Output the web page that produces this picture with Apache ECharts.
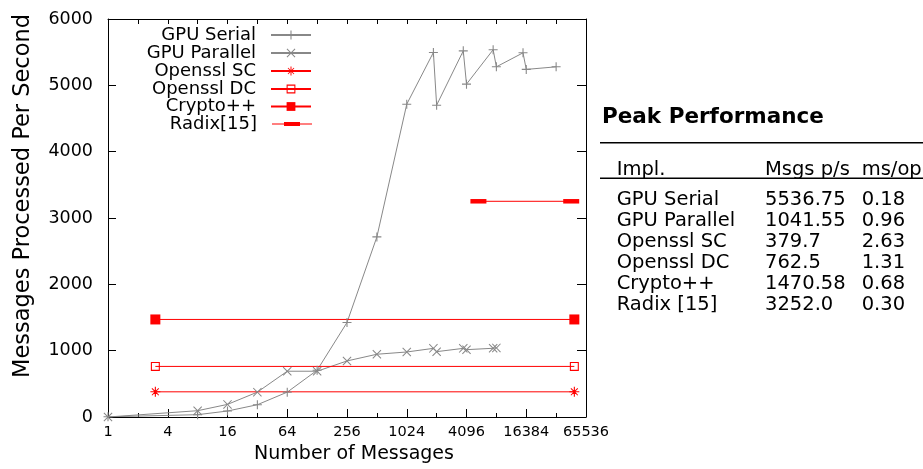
<!DOCTYPE html>
<html><head><meta charset="utf-8">
<script src="https://cdn.jsdelivr.net/npm/echarts@6/dist/echarts.min.js"></script>
<style>html,body{margin:0;padding:0;background:#fff}#c{width:923px;height:469px}</style>
</head><body><div id="c"></div>
<script>
// ---- data ----
const serialN   = [1, 8, 16, 32, 64, 128, 256, 512, 1024, 1900, 2048, 3800, 4096, 7600, 8192, 15200, 16384, 32768];
const serialV   = [3, 35, 90, 185, 375, 705, 1425, 2715, 4716, 5496, 4701, 5520, 5018, 5537, 5279, 5490, 5240, 5279];
const parallelN = [1, 8, 16, 32, 64, 128, 256, 512, 1024, 1900, 2048, 3800, 4096, 7600, 8192];
const parallelV = [0, 95, 190, 375, 690, 690, 845, 946, 980, 1035, 985, 1035, 1015, 1036, 1042];
const flatN     = [3, 50000];
const radixN    = [5400, 46500];
const opensslSCV = [379.7, 379.7];
const opensslDCV = [762.5, 762.5];
const cryptoV    = [1470.58, 1470.58];
const radixV     = [3252.0, 3252.0];
const seriesNames = ['GPU Serial', 'GPU Parallel', 'Openssl SC', 'Openssl DC', 'Crypto++', 'Radix[15]'];
const xTickLabels = [1, 4, 16, 64, 256, 1024, 4096, 16384, 65536];
const yTicks = [0, 1000, 2000, 3000, 4000, 5000, 6000];
// table
const tableTitle = 'Peak Performance';
const tableHeader = ['Impl.', 'Msgs p/s', 'ms/op'];
const tableImpl = ['GPU Serial', 'GPU Parallel', 'Openssl SC', 'Openssl DC', 'Crypto++', 'Radix [15]'];
const tableMsgs = ['5536.75', '1041.55', '379.7', '762.5', '1470.58', '3252.0'];
const tableMs   = ['0.18', '0.96', '2.63', '1.31', '0.68', '0.30'];

// ---- styles ----
const FONT = 'DejaVu Sans';
const GRAY = '#888888';
const RED = '#ff0000';
const PLUS = 'path://M4.4,0H5.6V4.4H10V5.6H5.6V10H4.4V5.6H0V4.4H4.4Z';
const CROSS = 'path://M0,0.8L0.8,0L5,4.2L9.2,0L10,0.8L5.8,5L10,9.2L9.2,10L5,5.8L0.8,10L0,9.2L4.2,5Z';
const STAR = 'path://M4.45,0H5.55V4.45H10V5.55H5.55V10H4.45V5.55H0V4.45H4.45Z M1.2,1.9L1.9,1.2L5,4.3L8.1,1.2L8.8,1.9L5.7,5L8.8,8.1L8.1,8.8L5,5.7L1.9,8.8L1.2,8.1L4.3,5Z';
const OSQ = 'path://M0,0H10V10H0Z M1.2,1.2V8.8H8.8V1.2Z';
const RADIX_ICON = 'path://M0,1.5H40V2.5H0Z M12,0H28V4H12Z';

const G = {left: 108, top: 19, width: 478, height: 398};
const pair = (xs, ys) => xs.map((x, i) => [x, ys[i]]);

const legendRows = [35, 53, 71, 89, 106.5, 124];
const legends = seriesNames.map((n, i) => ({
  data: [i === 5 ? {name: n, icon: RADIX_ICON} : n],
  orient: 'vertical', align: 'right', right: 923 - 312, top: legendRows[i] - 9,
  padding: 0, itemWidth: 40, itemHeight: i === 5 ? 4 : 11, itemGap: 0, selectedMode: false,
  textStyle: {fontFamily: FONT, fontSize: 18, color: '#000', padding: [0, 10, 0, 0], lineHeight: 18}
}));

function lineSeries(name, data, symbol, size, color) {
  return {
    name, type: 'line', xAxisIndex: 0, yAxisIndex: 0, data, symbol, symbolSize: size,
    showAllSymbol: true, silent: true,
    lineStyle: {color, width: 1}, itemStyle: {color},
    emphasis: {disabled: true}
  };
}

const graphics = [];
graphics.push({type: 'text', x: 602, y: 117.5, style: {text: tableTitle, fontFamily: FONT, fontWeight: 'bold', fontSize: 21.5, fill: '#000', verticalAlign: 'middle'}});
graphics.push({type: 'line', shape: {x1: 600, y1: 142.7, x2: 923, y2: 142.7}, style: {stroke: '#000', lineWidth: 1.5}});
graphics.push({type: 'line', shape: {x1: 600, y1: 178.3, x2: 923, y2: 178.3}, style: {stroke: '#000', lineWidth: 1.5}});
const colX = [616.7, 765, 861.7];
tableHeader.forEach((t, j) => graphics.push({type: 'text', x: colX[j], y: 169.5, style: {text: t, fontFamily: FONT, fontSize: 19.5, fill: '#000', verticalAlign: 'middle'}}));
tableImpl.forEach((t, i) => {
  const y = 199.8 + 21 * i;
  [t, tableMsgs[i], tableMs[i]].forEach((s, j) => graphics.push({type: 'text', x: colX[j], y, style: {text: s, fontFamily: FONT, fontSize: 19.5, fill: '#000', verticalAlign: 'middle'}}));
});

const axisLine = {show: true, onZero: false, lineStyle: {color: '#000', width: 1}};

const option = {
  animation: false,
  backgroundColor: '#fff',
  grid: [
    Object.assign({containLabel: false, outerBoundsMode: 'none'}, G),
    Object.assign({containLabel: false, outerBoundsMode: 'none'}, G)
  ],
  legend: legends,
  xAxis: [
    {
      gridIndex: 0, type: 'log', logBase: 4, min: 1, max: 65536, splitNumber: 8, position: 'bottom',
      axisLine, axisTick: {show: true, inside: true, length: 8, lineStyle: {color: '#000'}},
      axisLabel: {fontFamily: FONT, fontSize: 14.5, color: '#000', margin: 8, showMinLabel: true, showMaxLabel: true, hideOverlap: false,
        formatter: v => { const r = Math.round(v); return xTickLabels.indexOf(r) >= 0 ? String(r) : ''; }},
      splitLine: {show: false},
      name: 'Number of Messages', nameLocation: 'middle', nameGap: 27,
      nameTextStyle: {fontFamily: FONT, fontSize: 19, color: '#000', padding: [0, 0, 0, 14]}
    },
    {
      gridIndex: 0, type: 'value', min: 0, max: 16, interval: 1, position: 'top',
      axisLine, axisTick: {show: true, inside: true, length: 5, lineStyle: {color: '#000'}},
      axisLabel: {show: false}, splitLine: {show: false}
    },
    {
      gridIndex: 1, type: 'value', min: 0, max: 16, interval: 1, position: 'bottom',
      axisLine: {show: false}, axisTick: {show: true, inside: true, length: 4, lineStyle: {color: '#000'}},
      axisLabel: {show: false}, splitLine: {show: false}
    }
  ],
  yAxis: [
    {
      gridIndex: 0, type: 'value', min: yTicks[0], max: yTicks[yTicks.length - 1], interval: 1000, position: 'left',
      axisLine, axisTick: {show: true, inside: true, length: 8, lineStyle: {color: '#000'}},
      axisLabel: {fontFamily: FONT, fontSize: 17.5, color: '#000', margin: 15, showMinLabel: true, showMaxLabel: true,
        formatter: v => String(v)},
      splitLine: {show: false},
      name: 'Messages Processed Per Second', nameLocation: 'middle', nameGap: 73,
      nameTextStyle: {fontFamily: FONT, fontSize: 22.5, color: '#000', padding: [0, 0, 0, 44]}
    },
    {
      gridIndex: 0, type: 'value', min: 0, max: 6000, interval: 1000, position: 'right',
      axisLine, axisTick: {show: true, inside: true, length: 9, lineStyle: {color: '#000'}},
      axisLabel: {show: false}, splitLine: {show: false}
    },
    {gridIndex: 1, type: 'value', min: 0, max: 1, show: false}
  ],
  series: [
    lineSeries(seriesNames[0], pair(serialN, serialV), PLUS, 9, GRAY),
    lineSeries(seriesNames[1], pair(parallelN, parallelV), CROSS, 9, GRAY),
    lineSeries(seriesNames[2], pair(flatN, opensslSCV), STAR, 10, RED),
    lineSeries(seriesNames[3], pair(flatN, opensslDCV), OSQ, 9, RED),
    lineSeries(seriesNames[4], pair(flatN, cryptoV), 'rect', 10, RED),
    lineSeries(seriesNames[5], pair(radixN, radixV), 'rect', [16, 4.5], RED)
  ],
  graphic: graphics
};
const chart = echarts.init(document.getElementById('c'), null, {renderer: 'canvas'});
chart.setOption(option);
</script>
</body></html>
